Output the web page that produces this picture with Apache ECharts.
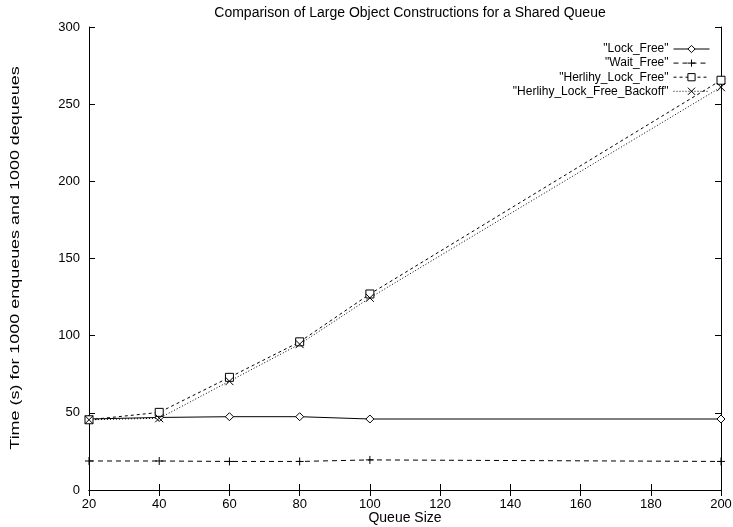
<!DOCTYPE html>
<html><head><meta charset="utf-8">
<script src="https://cdn.jsdelivr.net/npm/echarts@6/dist/echarts.min.js"></script>
<style>html,body{margin:0;padding:0;background:#fff}#c{width:733px;height:527px}</style>
</head><body><div id="c"></div>
<script>
const queueSizes = [20, 40, 60, 80, 100, 200];
const lockFree = [46, 47, 47.5, 47.5, 46, 46];
const waitFree = [18.8, 18.8, 18.5, 18.5, 19.5, 18.5];
const herlihyLockFree = [45.5, 50.3, 73, 96, 127, 265.5];
const herlihyBackoff = [45.5, 46.5, 70.5, 94.5, 124.5, 261];
const seriesNames = ['"Lock_Free"', '"Wait_Free"', '"Herlihy_Lock_Free"', '"Herlihy_Lock_Free_Backoff"'];
const xTicks = {min: 20, max: 200, interval: 20};
const yTicks = {min: 0, max: 300, interval: 50};
const yTitle = 'Time (s) for 1000 enqueues and 1000 dequeues';

const FONT = 'Liberation Sans';
const pair = (arr) => queueSizes.map((x, i) => [x, arr[i]]);
const plusPath = 'path://M5,0L5,10M0,5L10,5';
const crossPath = 'path://M0,0L10,10M10,0L0,10';

const chart = echarts.init(document.getElementById('c'));
const tickCommon = {show: true, inside: true, length: 6, lineStyle: {color: '#000'}};
chart.setOption({
  animation: false,
  backgroundColor: '#fff',
  title: {text: 'Comparison of Large Object Constructions for a Shared Queue', left: 405, textAlign: 'center', top: 1,
    textStyle: {fontFamily: FONT, fontSize: 14, fontWeight: 'normal', color: '#000'}},
  legend: {orient: 'vertical', right: 18, top: 38, align: 'right', itemGap: 2, itemWidth: 36, itemHeight: 9,
    textStyle: {fontFamily: FONT, fontSize: 12, color: '#000'}, data: seriesNames,
    lineStyle: {width: 1}, itemStyle: {borderWidth: 1}},
  graphic: [{type: 'text', x: 15, y: 258, rotation: Math.PI / 2, scaleX: 1.38,
    style: {text: yTitle, font: '13px "Liberation Sans"', fill: '#000', textAlign: 'center', textVerticalAlign: 'middle'}}],
  grid: {left: 89, right: 12, top: 27, bottom: 37, outerBoundsMode: 'none', containLabel: false},
  xAxis: [{type: 'value', min: xTicks.min, max: xTicks.max, interval: xTicks.interval, position: 'bottom',
      name: 'Queue Size', nameLocation: 'middle', nameGap: 21, nameMoveOverlap: false,
      nameTextStyle: {fontFamily: FONT, fontSize: 14, color: '#000'},
      axisLine: {show: true, lineStyle: {color: '#000', width: 1}}, axisTick: tickCommon,
      axisLabel: {fontFamily: FONT, fontSize: 13, color: '#000', margin: 8}, splitLine: {show: false}},
    {type: 'value', min: xTicks.min, max: xTicks.max, interval: xTicks.interval, position: 'top',
      axisLine: {show: true, lineStyle: {color: '#000', width: 1}}, axisTick: tickCommon,
      axisLabel: {show: false}, splitLine: {show: false}}],
  yAxis: [{type: 'value', min: yTicks.min, max: yTicks.max, interval: yTicks.interval, position: 'left',
      axisLine: {show: true, lineStyle: {color: '#000', width: 1}}, axisTick: tickCommon,
      axisLabel: {fontFamily: FONT, fontSize: 13, color: '#000', margin: 9}, splitLine: {show: false}},
    {type: 'value', min: yTicks.min, max: yTicks.max, interval: yTicks.interval, position: 'right',
      axisLine: {show: true, lineStyle: {color: '#000', width: 1}}, axisTick: tickCommon,
      axisLabel: {show: false}, splitLine: {show: false}}],
  series: [
    {name: seriesNames[0], type: 'line', data: pair(lockFree), symbol: 'diamond', symbolSize: 8,
      lineStyle: {color: '#000', width: 1, type: 'solid'},
      itemStyle: {color: '#fff', borderColor: '#000', borderWidth: 1}},
    {name: seriesNames[1], type: 'line', data: pair(waitFree), symbol: plusPath, symbolSize: 8,
      lineStyle: {color: '#000', width: 1, type: [5, 4]},
      itemStyle: {color: 'none', borderColor: '#000', borderWidth: 1}},
    {name: seriesNames[2], type: 'line', data: pair(herlihyLockFree), symbol: 'rect', symbolSize: 8,
      lineStyle: {color: '#000', width: 1, type: [3, 3]},
      itemStyle: {color: '#fff', borderColor: '#000', borderWidth: 1}},
    {name: seriesNames[3], type: 'line', data: pair(herlihyBackoff), symbol: crossPath, symbolSize: 8,
      lineStyle: {color: '#000', width: 1, type: [1, 2]},
      itemStyle: {color: 'none', borderColor: '#000', borderWidth: 1}}
  ]
});
</script></body></html>
